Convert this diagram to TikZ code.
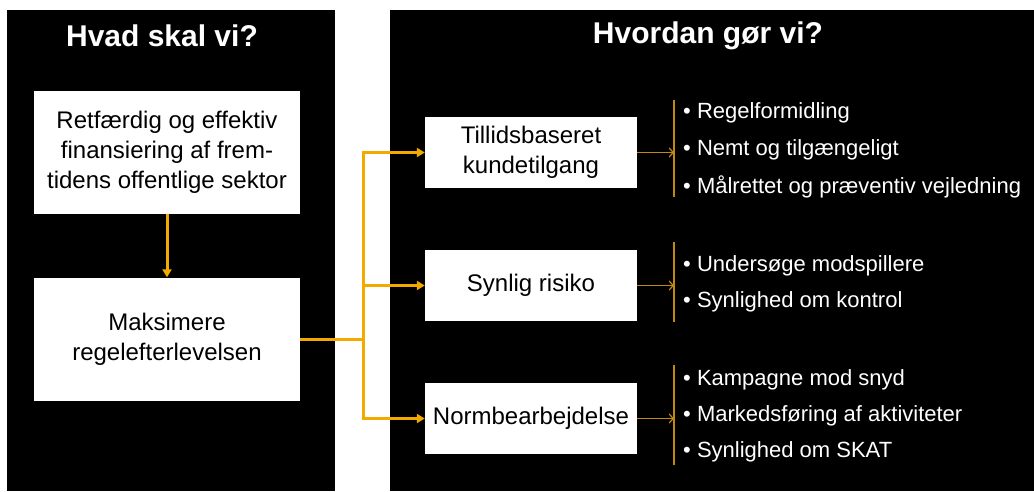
\documentclass[tikz,border=0pt]{standalone}
\usepackage{fontspec}
\setmainfont{Liberation Sans}
\usetikzlibrary{arrows.meta}
\definecolor{gold}{HTML}{F2A900}
\definecolor{darkgold}{HTML}{C08A10}
\begin{document}
\begin{tikzpicture}[x=1pt, y=-1pt,
    panel/.style={fill=black, draw=none},
    title/.style={text=white, font=\fontsize{30}{35}\selectfont\bfseries, inner sep=0pt},
    bigbox/.style={rectangle, fill=white, draw=none, align=center,
      minimum width=266pt, minimum height=123pt, inner sep=0pt,
      font=\fontsize{24}{30}\selectfont},
    actbox/.style={rectangle, fill=white, draw=none, align=center,
      minimum width=212pt, minimum height=71pt, inner sep=0pt,
      font=\fontsize{24}{30}\selectfont},
    item/.style={anchor=west, text=white, inner sep=0pt,
      font=\fontsize{22}{26}\selectfont},
    flow/.style={draw=gold, line width=3pt, -{Triangle[width=9pt,length=8pt]}},
    thin/.style={draw=darkgold, line width=1.2pt},
    ]

      \useasboundingbox (0,0) rectangle (1034,491);

      % panels
      \fill[panel] (7,10) rectangle (335,491);
      \fill[panel] (390,10) rectangle (1034,491);

      \node[title] (hvad) at (162,36) {Hvad skal vi?};
      \node[title] (hvordan) at (708,36) {Hvordan gør vi?};

      % left column
      \node[bigbox] (maal)  at (167,152) {Retfærdig og effektiv\\finansiering af frem-\\tidens offentlige sektor};
      \node[bigbox] (maks)  at (167,339) {Maksimere\\regelefterlevelsen};

      % right column
      \node[actbox] (tillid) at (531,152.5) {Tillidsbaseret\\kundetilgang};
      \node[actbox] (risiko) at (531,285.5) {Synlig risiko};
      \node[actbox] (norm)   at (531,418.5) {Normbearbejdelse};

      \coordinate (split) at (363,339);

      \coordinate (l1t) at (674,100);
      \coordinate (l1b) at (674,197);
      \coordinate (l2t) at (674,242);
      \coordinate (l2b) at (674,322);
      \coordinate (l3t) at (674,365);
      \coordinate (l3b) at (674,465);

      % bullets
      \node[item] (b11) at (683,113) {•\ Regelformidling};
      \node[item] (b12) at (683,150) {•\ Nemt og tilgængeligt};
      \node[item] (b13) at (683,187) {•\ Målrettet og præventiv vejledning};
      \node[item] (b21) at (683,266) {•\ Undersøge modspillere};
      \node[item] (b22) at (683,302) {•\ Synlighed om kontrol};
      \node[item] (b31) at (683,380) {•\ Kampagne mod snyd};
      \node[item] (b32) at (683,416) {•\ Markedsføring af aktiviteter};
      \node[item] (b33) at (683,452) {•\ Synlighed om SKAT};

      % connectors
      \draw[flow] (maal) -- (maks);
      \draw[draw=gold, line width=3pt] (maks.east) -- (split);
      \draw[flow] (split) |- (tillid.west);
      \draw[flow] (split) |- (risiko.west);
      \draw[flow] (split) |- (norm.west);

      \draw[thin] (l1t) -- (l1b);
      \draw[thin] (l2t) -- (l2b);
      \draw[thin] (l3t) -- (l3b);

      \draw[thin, -{Straight Barb[length=4pt,width=9pt]}] (tillid.east) -- (tillid.east -| l1t);
      \draw[thin, -{Straight Barb[length=4pt,width=9pt]}] (risiko.east) -- (risiko.east -| l2t);
      \draw[thin, -{Straight Barb[length=4pt,width=9pt]}] (norm.east) -- (norm.east -| l3t);

    \end{tikzpicture}
\end{document}
